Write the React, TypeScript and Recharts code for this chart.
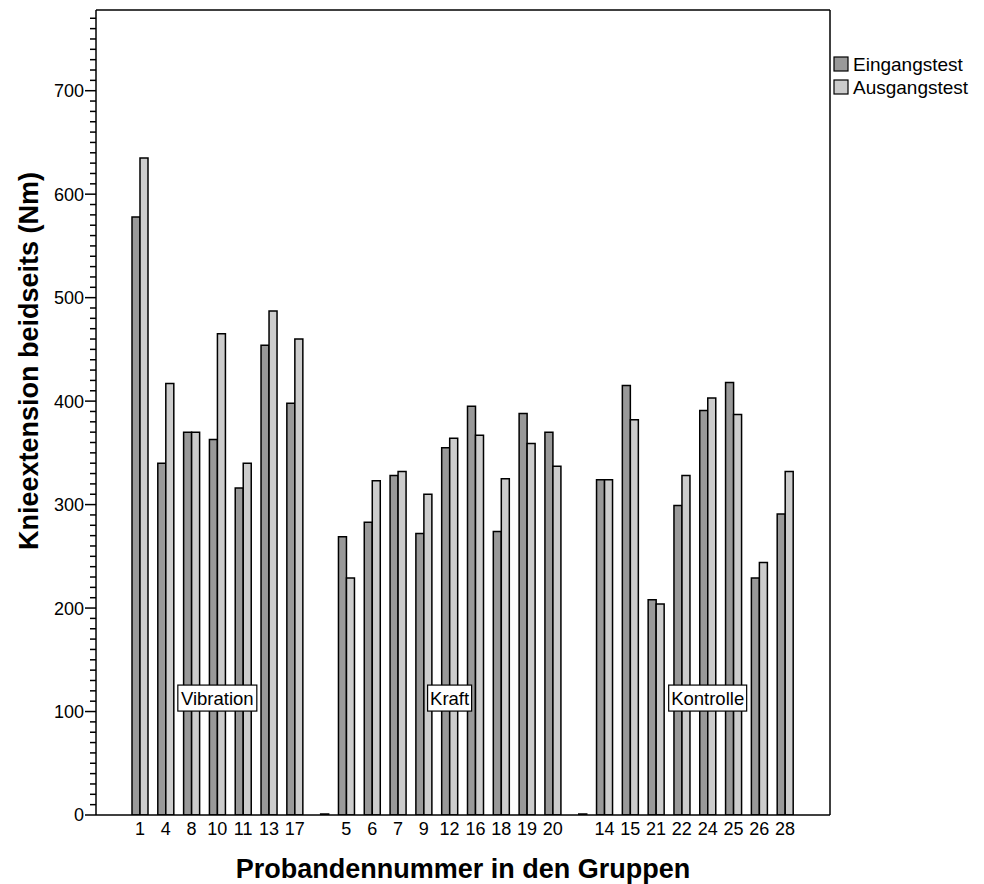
import { BarChart, Bar, XAxis, YAxis, ReferenceDot, Customized } from 'recharts';

// Probandennummer, grouped: Vibration | Kraft | Kontrolle ('' / ' ' = gap between groups)
const probanden = ['1', '4', '8', '10', '11', '13', '17', '', '5', '6', '7', '9', '12', '16', '18', '19', '20', ' ', '14', '15', '21', '22', '24', '25', '26', '28'];
const eingangstest = [578, 340, 370, 363, 316, 454, 398, null, 269, 283, 328, 272, 355, 395, 274, 388, 370, null, 324, 415, 208, 299, 391, 418, 229, 291];
const ausgangstest = [635, 417, 370, 465, 340, 487, 460, 0, 229, 323, 332, 310, 364, 367, 325, 359, 337, 0, 324, 382, 204, 328, 403, 387, 244, 332];

const groups = [
  { name: 'Vibration', at: '10', width: 79 },
  { name: 'Kraft', at: '12', width: 44 },
  { name: 'Kontrolle', at: '24', width: 78 },
];

const yTicks = Array.from({ length: 78 }, (_, i) => i * 10);

const data = probanden.map((name, i) => ({
  name,
  Eingangstest: eingangstest[i],
  Ausgangstest: ausgangstest[i],
}));

const FONT = 'Arial, "Liberation Sans", sans-serif';
const DARK = '#999999';
const LIGHT = '#cccccc';

function YTick(props: any) {
  const { x, y, payload } = props;
  const major = payload.value % 100 === 0;
  const len = major ? 11 : 6;
  return (
    <g>
      <line x1={x - len} x2={x} y1={y} y2={y} stroke="#000" strokeWidth={1.5} />
      {major && (
        <text x={x - len - 1} y={y} dy="0.36em" textAnchor="end" fontSize={18} fontFamily={FONT} fill="#000">
          {payload.value}
        </text>
      )}
    </g>
  );
}

function GroupLabel(props: any) {
  const { cx, cy, label, w } = props;
  if (cx == null || cy == null) return null;
  return (
    <g>
      <rect x={cx - w / 2} y={cy - 13} width={w} height={26} fill="#fff" stroke="#000" strokeWidth={1.2} />
      <text x={cx} y={cy} dy="0.36em" textAnchor="middle" fontSize={18.5} fontFamily={FONT} fill="#000">
        {label}
      </text>
    </g>
  );
}

// legend + axis titles, drawn in the svg
function Extras() {
  const items = [
    { name: 'Eingangstest', color: DARK },
    { name: 'Ausgangstest', color: LIGHT },
  ];
  return (
    <g fontFamily={FONT} fill="#000">
      {items.map((it, i) => (
        <g key={it.name}>
          <rect x={834} y={57 + i * 23} width={14} height={14} fill={it.color} stroke="#000" strokeWidth={1.2} />
          <text x={853} y={64 + i * 23} dy="0.36em" fontSize={19}>{it.name}</text>
        </g>
      ))}
      <text x={463} y={868} dy="0.36em" textAnchor="middle" fontSize={27} fontWeight="bold">
        Probandennummer in den Gruppen
      </text>
      <text x={28} y={361} dy="0.36em" textAnchor="middle" fontSize={27} fontWeight="bold" transform="rotate(-90 28 361)">
        Knieextension beidseits (Nm)
      </text>
    </g>
  );
}

export default function App() {
  return (
    <div style={{ position: 'absolute', left: 0, top: 0, background: '#fff' }}>
      <BarChart
        width={984}
        height={884}
        data={data}
        margin={{ top: 9, right: 153, bottom: 0, left: 0 }}
        barGap={0}
        barSize={8}
      >
        <XAxis
          dataKey="name"
          height={69}
          padding={{ left: 31, right: 32 }}
          tickLine={false}
          tickSize={0}
          tickMargin={7}
          interval={0}
          axisLine={{ stroke: '#000', strokeWidth: 1.5 }}
          tick={{ fontSize: 18, fill: '#000', fontFamily: FONT }}
        />
        <XAxis xAxisId="top" dataKey="name" orientation="top" height={1} tick={false} tickLine={false} axisLine={{ stroke: '#000', strokeWidth: 1.5 }} />
        <YAxis
          width={96}
          domain={[0, 778]}
          ticks={yTicks}
          interval={0}
          allowDataOverflow
          tickLine={false}
          tickSize={0}
          tickMargin={0}
          axisLine={{ stroke: '#000', strokeWidth: 1.5 }}
          tick={<YTick />}
        />
        <YAxis yAxisId="right" orientation="right" width={1} tick={false} tickLine={false} axisLine={{ stroke: '#000', strokeWidth: 1.5 }} />
        <Bar dataKey="Eingangstest" fill={DARK} stroke="#000" strokeWidth={1.5} isAnimationActive={false} />
        <Bar dataKey="Ausgangstest" fill={LIGHT} stroke="#000" strokeWidth={1.5} minPointSize={1} isAnimationActive={false} />
        {groups.map(g => (
          <ReferenceDot
            key={g.name}
            x={g.at}
            y={113}
            r={0}
            ifOverflow="visible"
            shape={(p: any) => <GroupLabel {...p} label={g.name} w={g.width} />}
          />
        ))}
        <Customized component={<Extras />} />
      </BarChart>
    </div>
  );
}
